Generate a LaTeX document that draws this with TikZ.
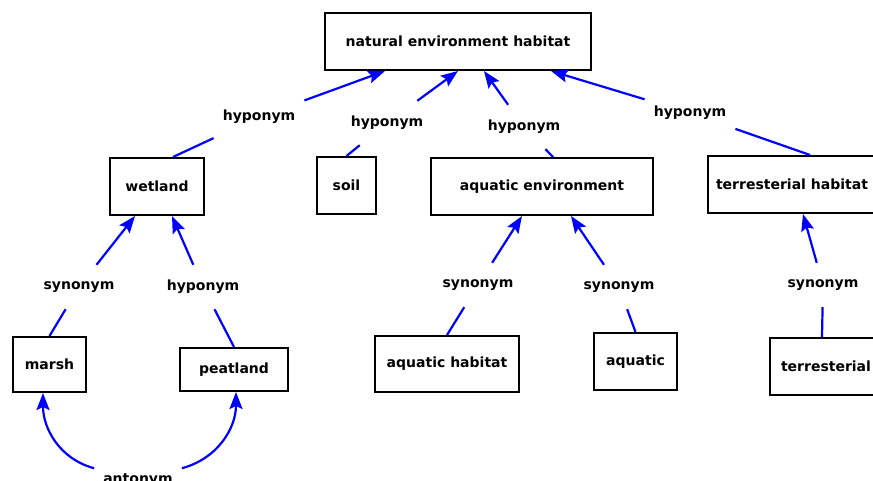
\documentclass[tikz,border=0pt]{standalone}
\usepackage{fontspec}
\setmainfont{DejaVu Sans}
\usetikzlibrary{arrows.meta,calc}

\begin{document}
\begin{tikzpicture}[x=1pt,y=1pt,
    wnet_box/.style={shape=rectangle,draw,line width=2pt,font=\bfseries\fontsize{14}{16}\selectfont},
    wnet_label/.style={shape=rectangle,inner xsep=9pt,minimum height=44pt,font=\bfseries\fontsize{14}{16}\selectfont},
    wnet_rel/.style={draw=wnet_blue,line width=2.2pt},
    wnet_arrow/.style={wnet_rel,-{Stealth[length=17pt,width=13pt,inset=3pt]}}]
    \definecolor{wnet_blue}{RGB}{0,0,255}
    \useasboundingbox (0,0) rectangle (873,481);
    % synsets
    \node[wnet_box,minimum width=266pt,minimum height=57pt] (neh)     at (458,439.5) {natural environment habitat};
    \node[wnet_box,minimum width=94pt,minimum height=57pt]  (wetland) at (157,294.5) {wetland};
    \node[wnet_box,minimum width=59pt,minimum height=57pt]  (soil)    at (346.5,295.5) {soil};
    \node[wnet_box,minimum width=222pt,minimum height=57pt] (aqenv)   at (542,294.5) {aquatic environment};
    \node[wnet_box,minimum width=168pt,minimum height=57pt] (terhab)  at (792,296.5) {terresterial habitat};
    \node[wnet_box,minimum width=73pt,minimum height=55pt]  (marsh)   at (49.5,116.5) {marsh};
    \node[wnet_box,minimum width=108pt,minimum height=43pt] (peat)    at (234,111.5) {peatland};
    \node[wnet_box,minimum width=144pt,minimum height=56pt] (aqhab)   at (447,117) {aquatic habitat};
    \node[wnet_box,minimum width=83pt,minimum height=57pt]  (aquatic) at (635.5,119.5) {aquatic};
    \node[wnet_box,minimum width=112pt,minimum height=57pt] (terr)    at (826,114.5) {terresterial};
    % relations
    \node[wnet_label] (hypA) at (259,364) {hyponym};
    \node[wnet_label] (hypB) at (387,358) {hyponym};
    \node[wnet_label] (hypC) at (524,354) {hyponym};
    \node[wnet_label] (hypD) at (690,368) {hyponym};
    \node[wnet_label] (synA) at (79,194)  {synonym};
    \node[wnet_label] (hypE) at (203,194) {hyponym};
    \node[wnet_label] (synB) at (478,196) {synonym};
    \node[wnet_label] (synC) at (619,194) {synonym};
    \node[wnet_label] (synD) at (823,196) {synonym};
    \node[wnet_label] (ant)  at (138,1)   {antonym};

    \draw[wnet_rel] ([xshift=16pt]wetland.north) -- (hypA);
    \draw[wnet_arrow] (hypA) -- ([xshift=-73pt]neh.south);
    \draw[wnet_rel] (soil.north) -- (hypB);
    \draw[wnet_arrow] (hypB) -- (neh.south);
    \draw[wnet_rel] ([xshift=11pt]aqenv.north) -- (hypC);
    \draw[wnet_arrow] (hypC) -- ([xshift=26pt]neh.south);
    \draw[wnet_rel] ([xshift=18pt]terhab.north) -- (hypD);
    \draw[wnet_arrow] (hypD) -- ([xshift=93pt]neh.south);

    \draw[wnet_rel] (marsh.north) -- (synA);
    \draw[wnet_arrow] (synA) -- ([xshift=-22pt]wetland.south);
    \draw[wnet_rel] (peat.north) -- (hypE);
    \draw[wnet_arrow] (hypE) -- ([xshift=15pt]wetland.south);
    \draw[wnet_rel] (aqhab.north) -- (synB);
    \draw[wnet_arrow] (synB) -- ([xshift=-20pt]aqenv.south);
    \draw[wnet_rel] (aquatic.north) -- (synC);
    \draw[wnet_arrow] (synC) -- ([xshift=29pt]aqenv.south);
    \draw[wnet_rel] ([xshift=-4pt]terr.north) -- (synD);
    \draw[wnet_arrow] (synD) -- ([xshift=11pt]terhab.south);

    \draw[wnet_arrow] (ant) to[out=165,in=-90] ([xshift=-6.5pt]marsh.south);
    \draw[wnet_arrow] (ant) to[out=15,in=-90] ([xshift=2pt]peat.south);
\end{tikzpicture}
\end{document}
